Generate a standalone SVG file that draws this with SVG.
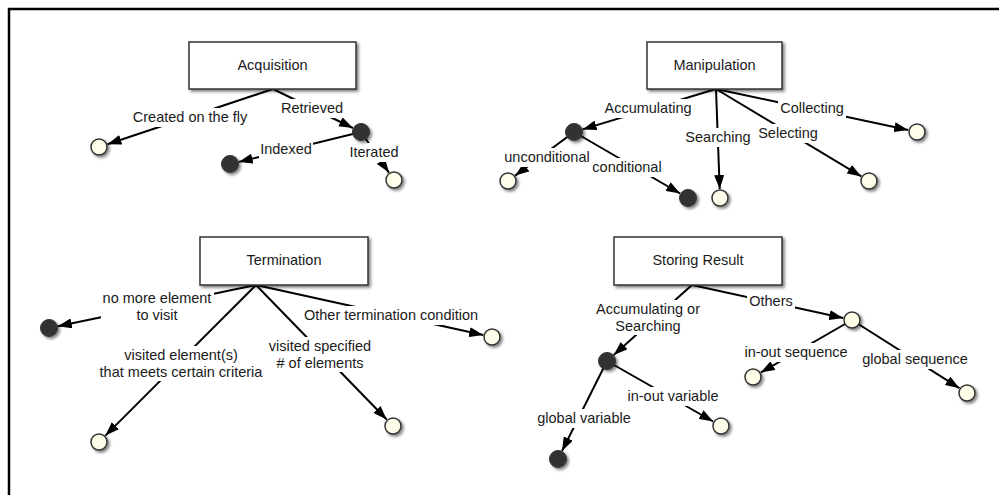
<svg xmlns="http://www.w3.org/2000/svg" width="999" height="495" viewBox="0 0 999 495">
<defs>
<filter id="sh" x="-30%" y="-30%" width="170%" height="170%">
<feGaussianBlur in="SourceAlpha" stdDeviation="1.5"/>
<feOffset dx="2" dy="2" result="b"/>
<feComponentTransfer><feFuncA type="linear" slope="0.5"/></feComponentTransfer>
<feMerge><feMergeNode/><feMergeNode in="SourceGraphic"/></feMerge>
</filter>
<marker id="arr" markerUnits="userSpaceOnUse" viewBox="0 0 14 10" refX="14" refY="5" markerWidth="14" markerHeight="10" orient="auto">
<path d="M0,0 L14,5 L0,10 z" fill="#000"/>
</marker>
</defs>
<style>
.box rect{fill:#fff;stroke:#333;stroke-width:1.5;filter:url(#sh)}
text{font-family:"Liberation Sans",Arial,sans-serif;font-size:14.5px;fill:#1a1a1a;text-anchor:middle}
.c line{stroke:#000;stroke-width:2}
.c .a{marker-end:url(#arr)}
.bg{fill:#fff}
.lt{fill:#fdfde9;stroke:#333;stroke-width:1.5;filter:url(#sh)}
.dk{fill:#333;stroke:#333;stroke-width:1;filter:url(#sh)}
</style>
<rect width="999" height="495" fill="#fff"/>
<path d="M9,495 V9 H999" fill="none" stroke="#000" stroke-width="2.5"/>

<g id="connectors" class="c">
<line x1="273" y1="89" x2="107.5" y2="144.2" class="a"/>
<line x1="273" y1="89" x2="352.9" y2="128" class="a"/>
<line x1="361" y1="132" x2="238.7" y2="161.9" class="a"/>
<line x1="361" y1="132" x2="388.9" y2="172.6" class="a"/>
<line x1="716" y1="89" x2="582.6" y2="129.4" class="a"/>
<line x1="716" y1="89" x2="719.7" y2="189" class="a"/>
<line x1="716" y1="89" x2="861.3" y2="176.4" class="a"/>
<line x1="716" y1="89" x2="908.2" y2="130.1" class="a"/>
<line x1="574" y1="132" x2="515.2" y2="175.6" class="a"/>
<line x1="574" y1="132" x2="680.2" y2="193.5" class="a"/>
<line x1="256" y1="285" x2="57.8" y2="326.2" class="a"/>
<line x1="256" y1="285" x2="105.4" y2="435.6" class="a"/>
<line x1="256" y1="285" x2="386.7" y2="419.5" class="a"/>
<line x1="256" y1="285" x2="483.2" y2="335.1" class="a"/>
<line x1="692" y1="285" x2="613.7" y2="355" class="a"/>
<line x1="692" y1="285" x2="843.2" y2="318.1" class="a"/>
<line x1="607" y1="361" x2="562" y2="451" class="a"/>
<line x1="607" y1="361" x2="713.2" y2="421.5" class="a"/>
<line x1="852" y1="320" x2="760.8" y2="372.5" class="a"/>
<line x1="852" y1="320" x2="959.4" y2="388.2" class="a"/>

<rect class="bg" x="131" y="108" width="118" height="19"/>
<text x="190" y="122">Created on the fly</text>
<rect class="bg" x="280" y="99" width="64" height="19"/>
<text x="312" y="113">Retrieved</text>
<rect class="bg" x="259" y="140" width="54" height="19"/>
<text x="286" y="154">Indexed</text>
<rect class="bg" x="349" y="143" width="51" height="19"/>
<text x="374" y="157">Iterated</text>

<rect class="bg" x="603" y="99" width="90" height="19"/>
<text x="648" y="113">Accumulating</text>
<rect class="bg" x="684" y="128" width="68" height="19"/>
<text x="718" y="142">Searching</text>
<rect class="bg" x="756" y="124" width="64" height="19"/>
<text x="788" y="138">Selecting</text>
<rect class="bg" x="778" y="99" width="68" height="19"/>
<text x="812" y="113">Collecting</text>
<rect class="bg" x="503" y="148" width="88" height="19"/>
<text x="547" y="162">unconditional</text>
<rect class="bg" x="591" y="158" width="72" height="19"/>
<text x="627" y="172">conditional</text>

<rect class="bg" x="101" y="289" width="113" height="35"/>
<text x="157" y="303">no more element</text>
<text x="157" y="320">to visit</text>
<rect class="bg" x="97" y="346" width="168" height="35"/>
<text x="181" y="360">visited element(s)</text>
<text x="181" y="377">that meets certain criteria</text>
<rect class="bg" x="266" y="337" width="108" height="35"/>
<text x="320" y="351">visited specified</text>
<text x="320" y="368"># of elements</text>
<rect class="bg" x="301" y="306" width="180" height="19"/>
<text x="391" y="320">Other termination condition</text>

<rect class="bg" x="593" y="300" width="110" height="35"/>
<text x="648" y="314">Accumulating or</text>
<text x="648" y="331">Searching</text>
<rect class="bg" x="747" y="292" width="48" height="19"/>
<text x="771" y="306">Others</text>
<rect class="bg" x="535" y="409" width="98" height="19"/>
<text x="584" y="423">global variable</text>
<rect class="bg" x="625" y="387" width="96" height="19"/>
<text x="673" y="401">in-out variable</text>
<rect class="bg" x="743" y="343" width="106" height="19"/>
<text x="796" y="357">in-out sequence</text>
<rect class="bg" x="861" y="350" width="108" height="19"/>
<text x="915" y="364">global sequence</text>
</g>

<g id="acquisition" class="box"><rect x="189" y="42" width="167" height="47"/><text x="272.5" y="70">Acquisition</text></g>
<g id="manipulation" class="box"><rect x="647" y="42" width="135" height="47"/><text x="714.5" y="70">Manipulation</text></g>
<g id="termination" class="box"><rect x="200" y="237" width="168" height="48"/><text x="284" y="265">Termination</text></g>
<g id="storing-result" class="box"><rect x="614" y="237" width="168" height="48"/><text x="698" y="265">Storing Result</text></g>

<g id="acq-created"><circle class="lt" cx="99" cy="147" r="8"/></g>
<g id="acq-retrieved"><circle class="dk" cx="361" cy="132" r="8.5"/></g>
<g id="acq-indexed"><circle class="dk" cx="230" cy="164" r="8.5"/></g>
<g id="acq-iterated"><circle class="lt" cx="394" cy="180" r="8"/></g>

<g id="man-accumulating"><circle class="dk" cx="574" cy="132" r="8.5"/></g>
<g id="man-searching"><circle class="lt" cx="720" cy="198" r="8"/></g>
<g id="man-selecting"><circle class="lt" cx="869" cy="181" r="8"/></g>
<g id="man-collecting"><circle class="lt" cx="917" cy="132" r="8"/></g>
<g id="man-unconditional"><circle class="lt" cx="508" cy="181" r="8"/></g>
<g id="man-conditional"><circle class="dk" cx="688" cy="198" r="8.5"/></g>

<g id="ter-nomore"><circle class="dk" cx="49" cy="328" r="8.5"/></g>
<g id="ter-criteria"><circle class="lt" cx="99" cy="442" r="8"/></g>
<g id="ter-specified"><circle class="lt" cx="393" cy="426" r="8"/></g>
<g id="ter-other"><circle class="lt" cx="492" cy="337" r="8"/></g>

<g id="sto-accsearch"><circle class="dk" cx="607" cy="361" r="8.5"/></g>
<g id="sto-others"><circle class="lt" cx="852" cy="320" r="8"/></g>
<g id="sto-globalvar"><circle class="dk" cx="558" cy="459" r="8.5"/></g>
<g id="sto-inoutvar"><circle class="lt" cx="721" cy="426" r="8"/></g>
<g id="sto-inoutseq"><circle class="lt" cx="753" cy="377" r="8"/></g>
<g id="sto-globalseq"><circle class="lt" cx="967" cy="393" r="8"/></g>
</svg>
